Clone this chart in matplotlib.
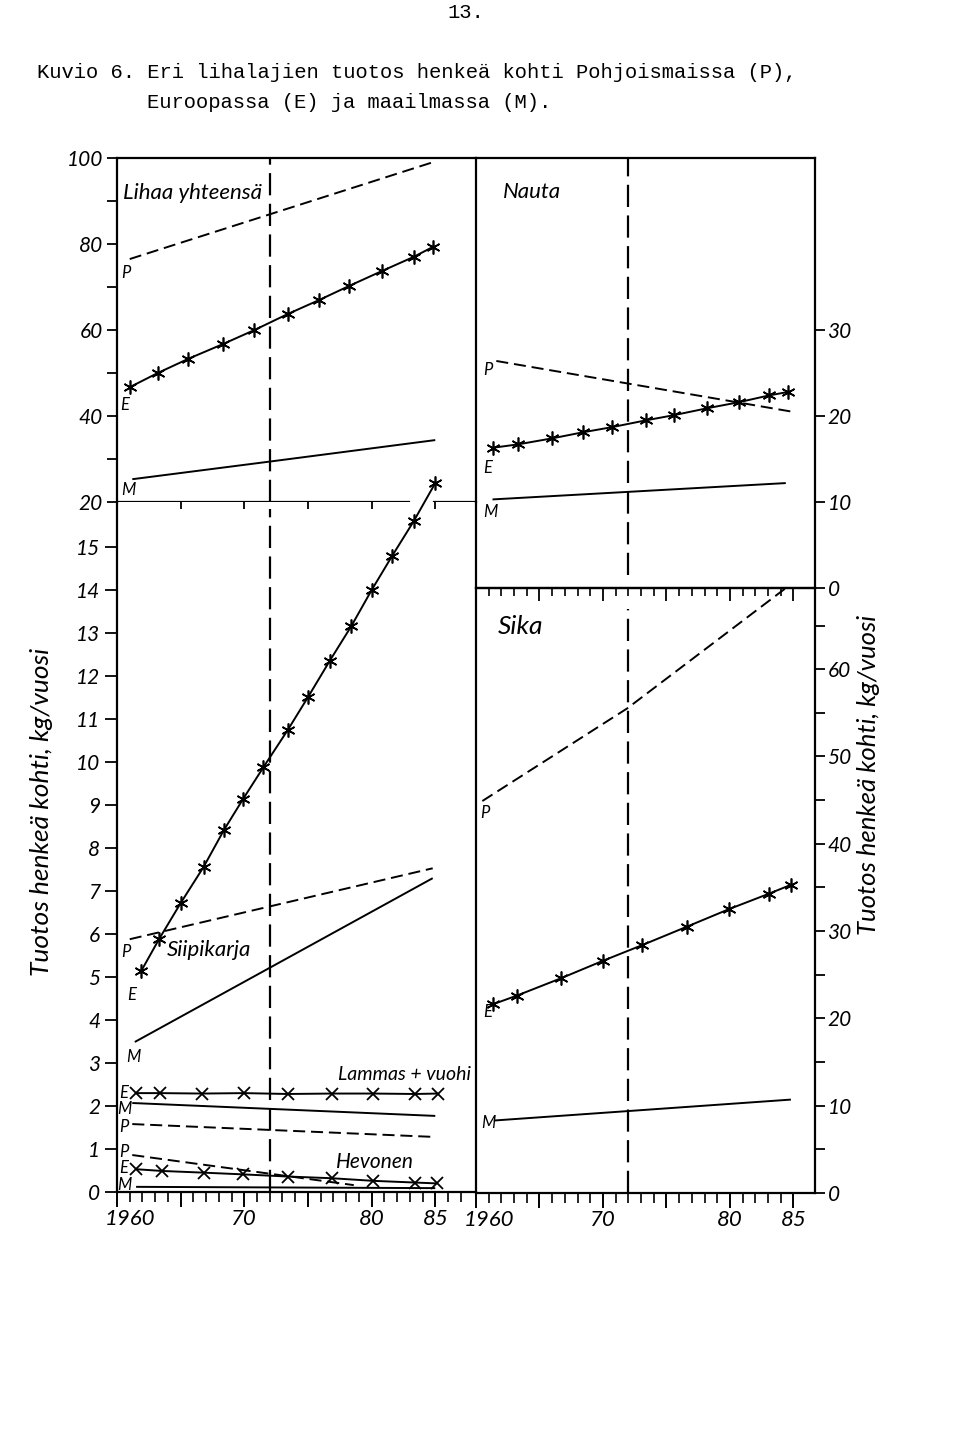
import matplotlib
matplotlib.use("Agg")
import matplotlib.pyplot as plt
import matplotlib.transforms as mtrans
from matplotlib.ticker import FixedLocator, NullFormatter

plt.rcParams['font.family'] = ['Lato', 'DejaVu Sans']
plt.rcParams['font.style'] = 'italic'

# ---------------- data ----------------
# Lihaa yhteensä (total meat), kg/person/year
total_E_years = [1961.0, 1963.2, 1965.6, 1968.3, 1970.8, 1973.4, 1975.9, 1978.2, 1980.8, 1983.3, 1984.8]
total_E = [46.7, 50.0, 53.3, 56.7, 60.0, 63.7, 67.0, 70.2, 73.7, 77.0, 79.3]
total_P_years = [1961.0, 1984.9]
total_P = [76.5, 99.1]
total_M_years = [1961.2, 1972.0, 1985.0]
total_M = [25.3, 29.4, 34.4]

# Nauta (beef)
cattle_E_years = [1961.3, 1963.3, 1966.0, 1968.4, 1970.7, 1973.4, 1975.6, 1978.2, 1980.7, 1983.1, 1984.6]
cattle_E = [16.3, 16.7, 17.4, 18.1, 18.7, 19.5, 20.1, 20.9, 21.6, 22.4, 22.8]
cattle_P_years = [1961.6, 1984.9]
cattle_P = [26.4, 20.5]
cattle_M_years = [1961.3, 1984.4]
cattle_M = [10.3, 12.2]

# Siipikarja (poultry)
poultry_E_years = [1961.9, 1963.3, 1965.0, 1966.8, 1968.4, 1969.9, 1971.5, 1973.4,
                   1975.0, 1976.7, 1978.4, 1980.0, 1981.6, 1983.3, 1985.0]
poultry_E = [5.14, 5.88, 6.72, 7.56, 8.42, 9.14, 9.88, 10.74, 11.51, 12.35, 13.16,
             14.0, 14.79, 15.6, 16.49]
poultry_P_years = [1961.0, 1984.8]
poultry_P = [5.88, 7.53]
poultry_M_years = [1961.4, 1984.8]
poultry_M = [3.49, 7.30]

# Lammas + vuohi (sheep + goat)
sheep_E_years = [1961.5, 1963.4, 1966.7, 1970.0, 1973.4, 1976.9, 1980.1, 1983.4, 1985.2]
sheep_E = [2.30, 2.30, 2.29, 2.30, 2.28, 2.29, 2.29, 2.28, 2.29]
sheep_M_years = [1961.2, 1985.0]
sheep_M = [2.07, 1.77]
sheep_P_years = [1961.2, 1985.0]
sheep_P = [1.58, 1.28]

# Hevonen (horse)
horse_E_years = [1961.5, 1963.5, 1966.8, 1969.9, 1973.4, 1976.9, 1980.1, 1983.4, 1985.1]
horse_E = [0.53, 0.49, 0.45, 0.41, 0.36, 0.32, 0.26, 0.22, 0.20]
horse_P_years = [1961.2, 1978.6]
horse_P = [0.86, 0.16]
horse_M_years = [1961.5, 1985.0]
horse_M = [0.12, 0.09]

# Sika (pork)
pork_E_years = [1961.3, 1963.2, 1966.7, 1970.0, 1973.1, 1976.6, 1979.9, 1983.1, 1984.8]
pork_E = [21.6, 22.6, 24.6, 26.6, 28.4, 30.5, 32.5, 34.3, 35.3]
pork_P_years = [1960.5, 1971.9, 1984.5]
pork_P = [44.9, 55.5, 69.4]
pork_M_years = [1961.4, 1984.8]
pork_M = [8.3, 10.7]

divider_year = 1972.0

title_page = "13."
title_1 = "Kuvio 6. Eri lihalajien tuotos henkeä kohti Pohjoismaissa (P),"
title_2 = "Euroopassa (E) ja maailmassa (M)."
ylabel = "Tuotos henkeä kohti, kg/vuosi"
year_labels = ["1960", "70", "80", "85"]
year_label_pos = [1960, 1970, 1980, 1985]

# ---------------- layout ----------------
W, H = 960, 1440
fig = plt.figure(figsize=(W / 100, H / 100), dpi=100)


def box(l, t, r, b):
    return [l / W, 1 - b / H, (r - l) / W, (b - t) / H]


def ftext(x, y, s, **kw):
    fig.text(x / W, 1 - y / H, s, **kw)


ax_tl = fig.add_axes(box(117, 158, 476, 502))
ax_bl = fig.add_axes(box(117, 502, 476, 1192))
ax_tr = fig.add_axes(box(476, 158, 815, 588))
ax_br = fig.add_axes(box(476, 588, 815, 1193))

LW = 1.4
SPW = 1.6
solid = dict(color='k', lw=LW, solid_capstyle='butt')
dashed = dict(color='k', lw=LW, ls=(0, (6.2, 3.0)))
star = dict(marker=(6, 2, 0), ms=10, mew=1.2, mec='k')
cross = dict(marker='x', ms=8, mew=1.3, mec='k')
divider = dict(color='k', lw=1.6, ls=(0, (10, 3.8)))

for ax in (ax_tl, ax_bl, ax_tr, ax_br):
    for s in ax.spines.values():
        s.set_linewidth(SPW)
    ax.set_facecolor('none')
# shared border between columns drawn once
ax_tr.spines['left'].set_visible(False)
ax_br.spines['left'].set_visible(False)

# ----- top-left: Lihaa yhteensä -----
ax_tl.set_xlim(1960, 1988.2)
ax_tl.set_ylim(20, 100)
ax_tl.spines['bottom'].set_visible(False)
ax_tl.axhline(20, xmin=0, xmax=0.813, color='k', lw=SPW)
ax_tl.axhline(20, xmin=0.883, xmax=1.0, color='k', lw=SPW)
ax_tl.yaxis.set_major_locator(FixedLocator([20, 40, 60, 80, 100]))
ax_tl.yaxis.set_minor_locator(FixedLocator([30, 50, 70, 90]))
ax_tl.tick_params(axis='y', which='both', direction='out', length=7, width=1.3, pad=3, labelsize=15)
ax_tl.xaxis.set_major_locator(FixedLocator([1960, 1965, 1970, 1975, 1980, 1985]))
ax_tl.xaxis.set_major_formatter(NullFormatter())
ax_tl.tick_params(axis='x', which='major', direction='out', length=5, width=1.3)
ax_tl.plot(total_P_years, total_P, **dashed)
ax_tl.plot(total_E_years, total_E, **solid, **star)
ax_tl.plot(total_M_years, total_M, **solid)
ax_tl.axvline(divider_year, **divider)

# ----- bottom-left: Siipikarja, Lammas + vuohi, Hevonen -----
ax_bl.set_xlim(1960, 1988.2)
ax_bl.set_ylim(0, 16.05)
ax_bl.spines['top'].set_visible(False)
ax_bl.yaxis.set_major_locator(FixedLocator(list(range(0, 16))))
ax_bl.tick_params(axis='y', which='major', direction='out', length=9, width=1.3, pad=3, labelsize=15)
ax_bl.xaxis.set_major_locator(FixedLocator([1960, 1965, 1970, 1975, 1980, 1985]))
ax_bl.xaxis.set_minor_locator(FixedLocator([y for y in range(1961, 1988) if y % 5]))
ax_bl.xaxis.set_major_formatter(NullFormatter())
ax_bl.tick_params(axis='x', which='major', direction='out', length=11, width=1.4)
ax_bl.tick_params(axis='x', which='minor', direction='out', length=7, width=1.2)
ax_bl.plot(poultry_P_years, poultry_P, **dashed)
ax_bl.plot(poultry_E_years, poultry_E, **solid, **star, clip_on=False)
ax_bl.plot(poultry_M_years, poultry_M, **solid)
ax_bl.plot(sheep_E_years, sheep_E, **solid, **cross)
ax_bl.plot(sheep_M_years, sheep_M, **solid)
ax_bl.plot(sheep_P_years, sheep_P, **dashed)
ax_bl.plot(horse_P_years, horse_P, **dashed)
ax_bl.plot(horse_E_years, horse_E, **solid, **cross)
ax_bl.plot(horse_M_years, horse_M, **solid)
ax_bl.axvline(divider_year, ymax=0.99, **divider)

# ----- top-right: Nauta -----
ax_tr.set_xlim(1960, 1986.7)
ax_tr.set_ylim(0, 50)
ax_tr.yaxis.tick_right()
ax_tr.yaxis.set_major_locator(FixedLocator([0, 10, 20, 30]))
ax_tr.tick_params(axis='y', which='major', direction='out', length=7, width=1.3, pad=2, labelsize=15)
ax_tr.xaxis.set_major_locator(FixedLocator([1960, 1965, 1970, 1975, 1980, 1985]))
ax_tr.xaxis.set_minor_locator(FixedLocator([y for y in range(1961, 1986) if y % 5]))
ax_tr.xaxis.set_major_formatter(NullFormatter())
ax_tr.tick_params(axis='x', which='major', direction='out', length=9, width=1.3)
ax_tr.tick_params(axis='x', which='minor', direction='out', length=6, width=1.2)
ax_tr.plot(cattle_P_years, cattle_P, **dashed)
ax_tr.plot(cattle_E_years, cattle_E, **solid, **star)
ax_tr.plot(cattle_M_years, cattle_M, **solid)
ax_tr.axvline(divider_year, ymin=0.03, **divider)

# ----- bottom-right: Sika -----
ax_br.set_xlim(1960, 1986.7)
ax_br.set_ylim(0, 69.3)
ax_br.yaxis.tick_right()
ax_br.yaxis.set_major_locator(FixedLocator([0, 10, 20, 30, 40, 50, 60]))
ax_br.yaxis.set_minor_locator(FixedLocator([5, 15, 25, 35, 45, 55, 65]))
ax_br.tick_params(axis='y', which='both', direction='out', length=7, width=1.3, pad=2, labelsize=15)
ax_br.xaxis.set_major_locator(FixedLocator([1960, 1965, 1970, 1975, 1980, 1985]))
ax_br.xaxis.set_minor_locator(FixedLocator([y for y in range(1961, 1986) if y % 5]))
ax_br.xaxis.set_major_formatter(NullFormatter())
ax_br.tick_params(axis='x', which='major', direction='out', length=11, width=1.4)
ax_br.tick_params(axis='x', which='minor', direction='out', length=7, width=1.2)
ax_br.plot(pork_P_years, pork_P, **dashed, clip_on=False)
ax_br.plot(pork_E_years, pork_E, **solid, **star)
ax_br.plot(pork_M_years, pork_M, **solid)
ax_br.axvline(divider_year, ymax=0.965, **divider)

for ax in (ax_tl, ax_bl, ax_tr, ax_br):
    for lab in ax.get_yticklabels():
        lab.set_fontstyle('italic')

# bottom year labels
for ax in (ax_bl, ax_br):
    for pos, lab in zip(year_label_pos, year_labels):
        dx = 13 if lab == "1960" else 0
        tr = mtrans.offset_copy(ax.get_xaxis_transform(), fig=fig, x=dx, y=-27, units='dots')
        ax.text(pos, 0, lab, transform=tr, ha='center', va='center', fontsize=16, fontstyle='italic')

# ---------------- texts ----------------
mono = dict(family='Liberation Mono', fontstyle='normal', fontsize=14.8, va='center', ha='left')
ftext(466, 12, title_page, **{**mono, 'ha': 'center'})
ftext(37, 72, title_1, **mono)
ftext(147, 102, title_2, **mono)

ftext(42, 812, ylabel, rotation=90, ha='center', va='center', fontsize=19, fontstyle='italic')
ftext(868, 775, ylabel, rotation=90, ha='center', va='center', fontsize=18.5, fontstyle='italic')

panel = dict(fontstyle='italic', va='center', ha='left')
ftext(123, 193, "Lihaa yhteensä", fontsize=16, **panel)
ftext(503, 192, "Nauta", fontsize=16, **panel)
ftext(498, 627, "Sika", fontsize=19, **panel)
ftext(167, 950, "Siipikarja", fontsize=16, **panel)
ftext(338, 1075, "Lammas + vuohi", fontsize=14, **panel)
ftext(336, 1162, "Hevonen", fontsize=15, **panel)

small = dict(fontsize=12, fontstyle='italic', ha='center', va='center')
for (x, y, s) in [(126, 273, "P"), (125, 405, "E"), (128, 490, "M"),
                  (488, 370, "P"), (488, 468, "E"), (490, 512, "M"),
                  (126, 952, "P"), (132, 995, "E"), (133, 1057, "M"),
                  (124, 1093, "E"), (124, 1109, "M"), (124, 1127, "P"),
                  (124, 1152, "P"), (124, 1168, "E"), (124, 1185, "M"),
                  (485, 813, "P"), (488, 1012, "E"), (488, 1123, "M")]:
    ftext(x, y, s, **small)

fig.savefig("out.png", dpi=100, facecolor='white')
